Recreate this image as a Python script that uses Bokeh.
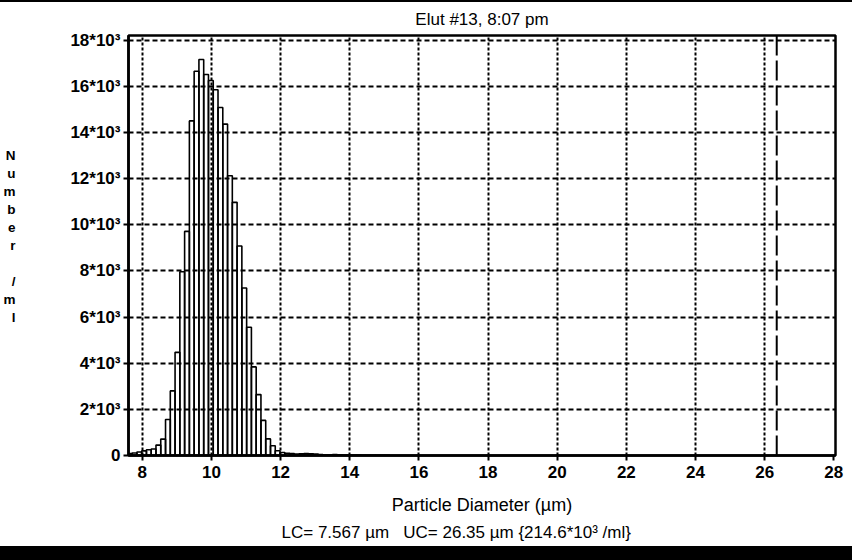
import numpy as np
from bokeh.plotting import figure
from bokeh.models import Range1d, FixedTicker, Span, Title, Spacer
from bokeh.layouts import column
from bokeh.embed import file_html
from bokeh.resources import INLINE

# ---- texts ----
title_text = "Elut #13, 8:07 pm"
x_label = "Particle Diameter (µm)"
y_label = "N\nu\nm\nb\ne\nr\n \n/\nm\nl\n "
footer_text = "LC= 7.567 µm\u00a0\u00a0 UC= 26.35 µm {214.6*10³ /ml}"

# ---- data ----
lc = 7.567          # lower cutoff (µm)
uc = 26.35          # upper cutoff (µm)
bin_width = 0.138   # channel width (µm)
counts = [80, 110, 150, 200, 250, 280, 450, 710, 1560, 2800,
          4470, 7960, 9710, 14500, 16650, 17160, 16510, 16250, 15850, 15080,
          14360, 12120, 10970, 9080, 7260, 5560, 3840, 2640, 1520, 720,
          420, 205, 130, 100, 80, 60, 70, 80, 70, 60,
          40, 30, 30, 40, 30, 20, 20, 15, 15, 10,
          10, 10, 10, 5, 5]

x_ticks = [8, 10, 12, 14, 16, 18, 20, 22, 24, 26, 28]
y_ticks = [0, 2000, 4000, 6000, 8000, 10000, 12000, 14000, 16000, 18000]
y_tick_labels = ["0", "2*10³", "4*10³", "6*10³", "8*10³", "10*10³",
                 "12*10³", "14*10³", "16*10³", "18*10³"]

x_min, x_max = 7.6, 28.05
y_min, y_max = 0, 18200

edges = lc + bin_width * np.arange(len(counts) + 1)

FONT = "Liberation Sans"

p = figure(width=852, height=544,
           x_range=Range1d(x_min, x_max), y_range=Range1d(y_min, y_max),
           output_backend="svg", toolbar_location=None,
           min_border_left=127, min_border_right=17,
           min_border_top=33, min_border_bottom=91,
           background_fill_color="white", border_fill_color="white")

p.title.text = title_text
p.title.align = "center"
p.title.vertical_align = "top"
p.title.text_font = FONT
p.title.text_font_size = "17px"
p.title.text_font_style = "normal"
p.title.text_color = "black"
p.title.standoff = 9

p.outline_line_color = "black"
p.outline_line_width = 2.5

# axes
for ax in (p.xaxis, p.yaxis):
    ax.axis_line_color = "black"
    ax.axis_line_width = 2.5
    ax.major_tick_line_color = "black"
    ax.major_tick_line_width = 2
    ax.major_tick_out = 5
    ax.major_tick_in = 0
    ax.minor_tick_line_color = None
    ax.major_label_text_font = FONT
    ax.major_label_text_font_size = "17px"
    ax.major_label_text_font_style = "bold"
    ax.major_label_text_color = "black"
    ax.axis_label_text_color = "black"

p.xaxis.ticker = FixedTicker(ticks=x_ticks)
p.xaxis.major_label_standoff = 5
p.xaxis.axis_label = x_label
p.xaxis.axis_label_text_font = FONT
p.xaxis.axis_label_text_font_size = "18px"
p.xaxis.axis_label_text_font_style = "normal"
p.xaxis.axis_label_standoff = 14

p.yaxis.ticker = FixedTicker(ticks=y_ticks)
p.yaxis.major_label_overrides = {t: s for t, s in zip(y_ticks, y_tick_labels)}
p.yaxis.major_label_standoff = 3
p.yaxis.axis_label = y_label
p.yaxis.axis_label_orientation = "horizontal"
p.yaxis.axis_label_text_font = FONT
p.yaxis.axis_label_text_font_size = "13.5px"
p.yaxis.axis_label_text_font_style = "bold"
p.yaxis.axis_label_standoff = 52

# grids
p.xgrid.ticker = FixedTicker(ticks=x_ticks[:-1])
p.ygrid.ticker = FixedTicker(ticks=y_ticks[1:])
p.xgrid.grid_line_color = "black"
p.xgrid.grid_line_width = 2
p.xgrid.grid_line_dash = "3 2"
p.ygrid.grid_line_color = "black"
p.ygrid.grid_line_width = 2
p.ygrid.grid_line_dash = "5 3"

# histogram bars
p.quad(left=edges[:-1], right=edges[1:], bottom=0, top=counts,
       fill_alpha=0, line_color="black", line_width=1.6)

# upper cutoff marker
p.add_layout(Span(location=uc, dimension="height", line_color="black",
                  line_width=2, line_dash="20 5"))

footer = Title(text=footer_text, align="left", text_font=FONT,
               text_font_size="17px", text_font_style="normal",
               text_color="black", standoff=6, offset=153)
p.add_layout(footer, "below")

top_band = Spacer(width=852, height=2, styles={"background-color": "black"})
bottom_band = Spacer(width=852, height=14, styles={"background-color": "black"})
layout = column(top_band, p, bottom_band, spacing=0)

open("out.html", "w").write(file_html(layout, INLINE))
